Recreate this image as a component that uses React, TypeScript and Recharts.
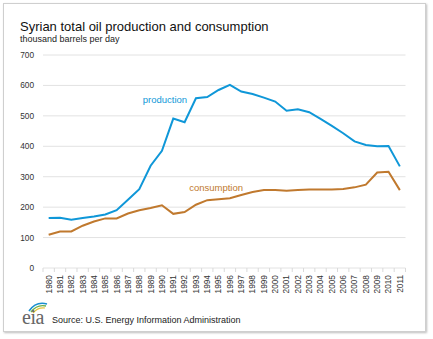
import React from 'react';
import { LineChart, Line, XAxis, YAxis, CartesianGrid, ReferenceDot } from 'recharts';

const years = [
  '1980','1981','1982','1983','1984','1985','1986','1987','1988','1989',
  '1990','1991','1992','1993','1994','1995','1996','1997','1998','1999',
  '2000','2001','2002','2003','2004','2005','2006','2007','2008','2009',
  '2010','2011',
];
const production = [
  164, 165, 159, 164, 169, 176, 190, 224, 259, 336,
  385, 491, 479, 558, 562, 585, 602, 580, 572, 560,
  547, 517, 522, 512, 490, 467, 443, 416, 404, 400,
  401, 334,
];
const consumption = [
  109, 120, 120, 139, 153, 163, 163, 179, 190, 197,
  206, 178, 184, 208, 223, 226, 229, 240, 250, 256,
  256, 254, 256, 258, 258, 258, 260, 265, 274, 314,
  316, 256,
];
const yTicks = [0, 100, 200, 300, 400, 500, 600, 700];

const data = years.map((y, i) => ({ year: y, production: production[i], consumption: consumption[i] }));

const BLUE = '#0f97d8';
const ORANGE = '#c0792e';
const FONT = '"Liberation Sans", Arial, sans-serif';

const XTick = (props: any) => {
  const { x, y, payload, index, visibleTicksCount } = props;
  const off = payload.offset || 0;
  const isLast = index === visibleTicksCount - 1;
  return (
    <g>
      <line x1={x - off} x2={x - off} y1={y} y2={y + 4} stroke="#d9d9d9" strokeWidth={1} />
      {isLast && <line x1={x + off} x2={x + off} y1={y} y2={y + 4} stroke="#d9d9d9" strokeWidth={1} />}
      <text
        x={x}
        y={y + 7}
        transform={`rotate(-90, ${x}, ${y + 7})`}
        textAnchor="end"
        dy="0.35em"
        fontSize={8.3}
        fill="#333"
        fontFamily={FONT}
      >
        {payload.value}
      </text>
    </g>
  );
};

const makeLabel = (text: string, color: string, dx: number) => (p: any) => (
  <text x={p.cx + dx} y={p.cy} textAnchor="middle" dy="0.35em" fontSize={9.5} fill={color} fontFamily={FONT}>
    {text}
  </text>
);

export default function App() {
  return (
    <div style={{ position: 'absolute', left: 0, top: 0, width: 433, height: 339, background: '#fff' }}>
      <div
        style={{
          position: 'absolute',
          left: 3,
          top: 3,
          width: 421,
          height: 327,
          border: '1px solid #cfcfcf',
          boxShadow: '1px 1px 2px #bdbdbd',
          background: '#fff',
        }}
      />
      <div style={{ position: 'absolute', left: 0, top: 0 }}>
        <LineChart
          width={433}
          height={339}
          data={data}
          margin={{ top: 55, right: 27.5, bottom: 41, left: 3 }}
        >
          <CartesianGrid vertical={false} stroke="#e2e2e2" strokeWidth={1} />
          <XAxis
            dataKey="year"
            scale="band"
            interval={0}
            axisLine={false}
            tickLine={false}
            tickSize={0}
            tickMargin={0}
            height={30}
            tick={<XTick />}
          />
          <YAxis
            domain={[0, 700]}
            ticks={yTicks}
            width={40}
            axisLine={false}
            tickLine={false}
            tickSize={0}
            tickMargin={9}
            tick={{ fontSize: 8.3, fill: '#333', fontFamily: FONT }}
          />
          <Line
            type="linear"
            dataKey="production"
            stroke={BLUE}
            strokeWidth={2}
            dot={false}
            isAnimationActive={false}
          />
          <Line
            type="linear"
            dataKey="consumption"
            stroke={ORANGE}
            strokeWidth={2}
            dot={false}
            isAnimationActive={false}
          />
          <ReferenceDot x="1990" y={553} r={0} shape={makeLabel('production', BLUE, 3)} />
          <ReferenceDot x="1995" y={265} r={0} shape={makeLabel('consumption', ORANGE, -2.5)} />
        </LineChart>
      </div>
      <svg width={433} height={339} style={{ position: 'absolute', left: 0, top: 0, pointerEvents: 'none' }}>
        <text x={20} y={30.5} fontSize={13} fill="#111" fontFamily={FONT}>
          Syrian total oil production and consumption
        </text>
        <text x={20} y={42} fontSize={9} fill="#222" fontFamily={FONT}>
          thousand barrels per day
        </text>
        <path d="M29 311 Q36 301 47 304" stroke="#1a8fd0" strokeWidth={1.6} fill="none" />
        <path d="M31 312 Q37 304 46 306" stroke="#6ab04c" strokeWidth={1.4} fill="none" />
        <path d="M33 313 Q38 307 45 308" stroke="#e8c23a" strokeWidth={1.2} fill="none" />
        <text x={22} y={324} fontSize={20} fill="#666" fontFamily='"Liberation Serif", "Times New Roman", serif' letterSpacing={-0.5}>
          eia
        </text>
        <text x={52} y={322.5} fontSize={9} fill="#222" fontFamily={FONT}>
          Source: U.S. Energy Information Administration
        </text>
      </svg>
    </div>
  );
}
